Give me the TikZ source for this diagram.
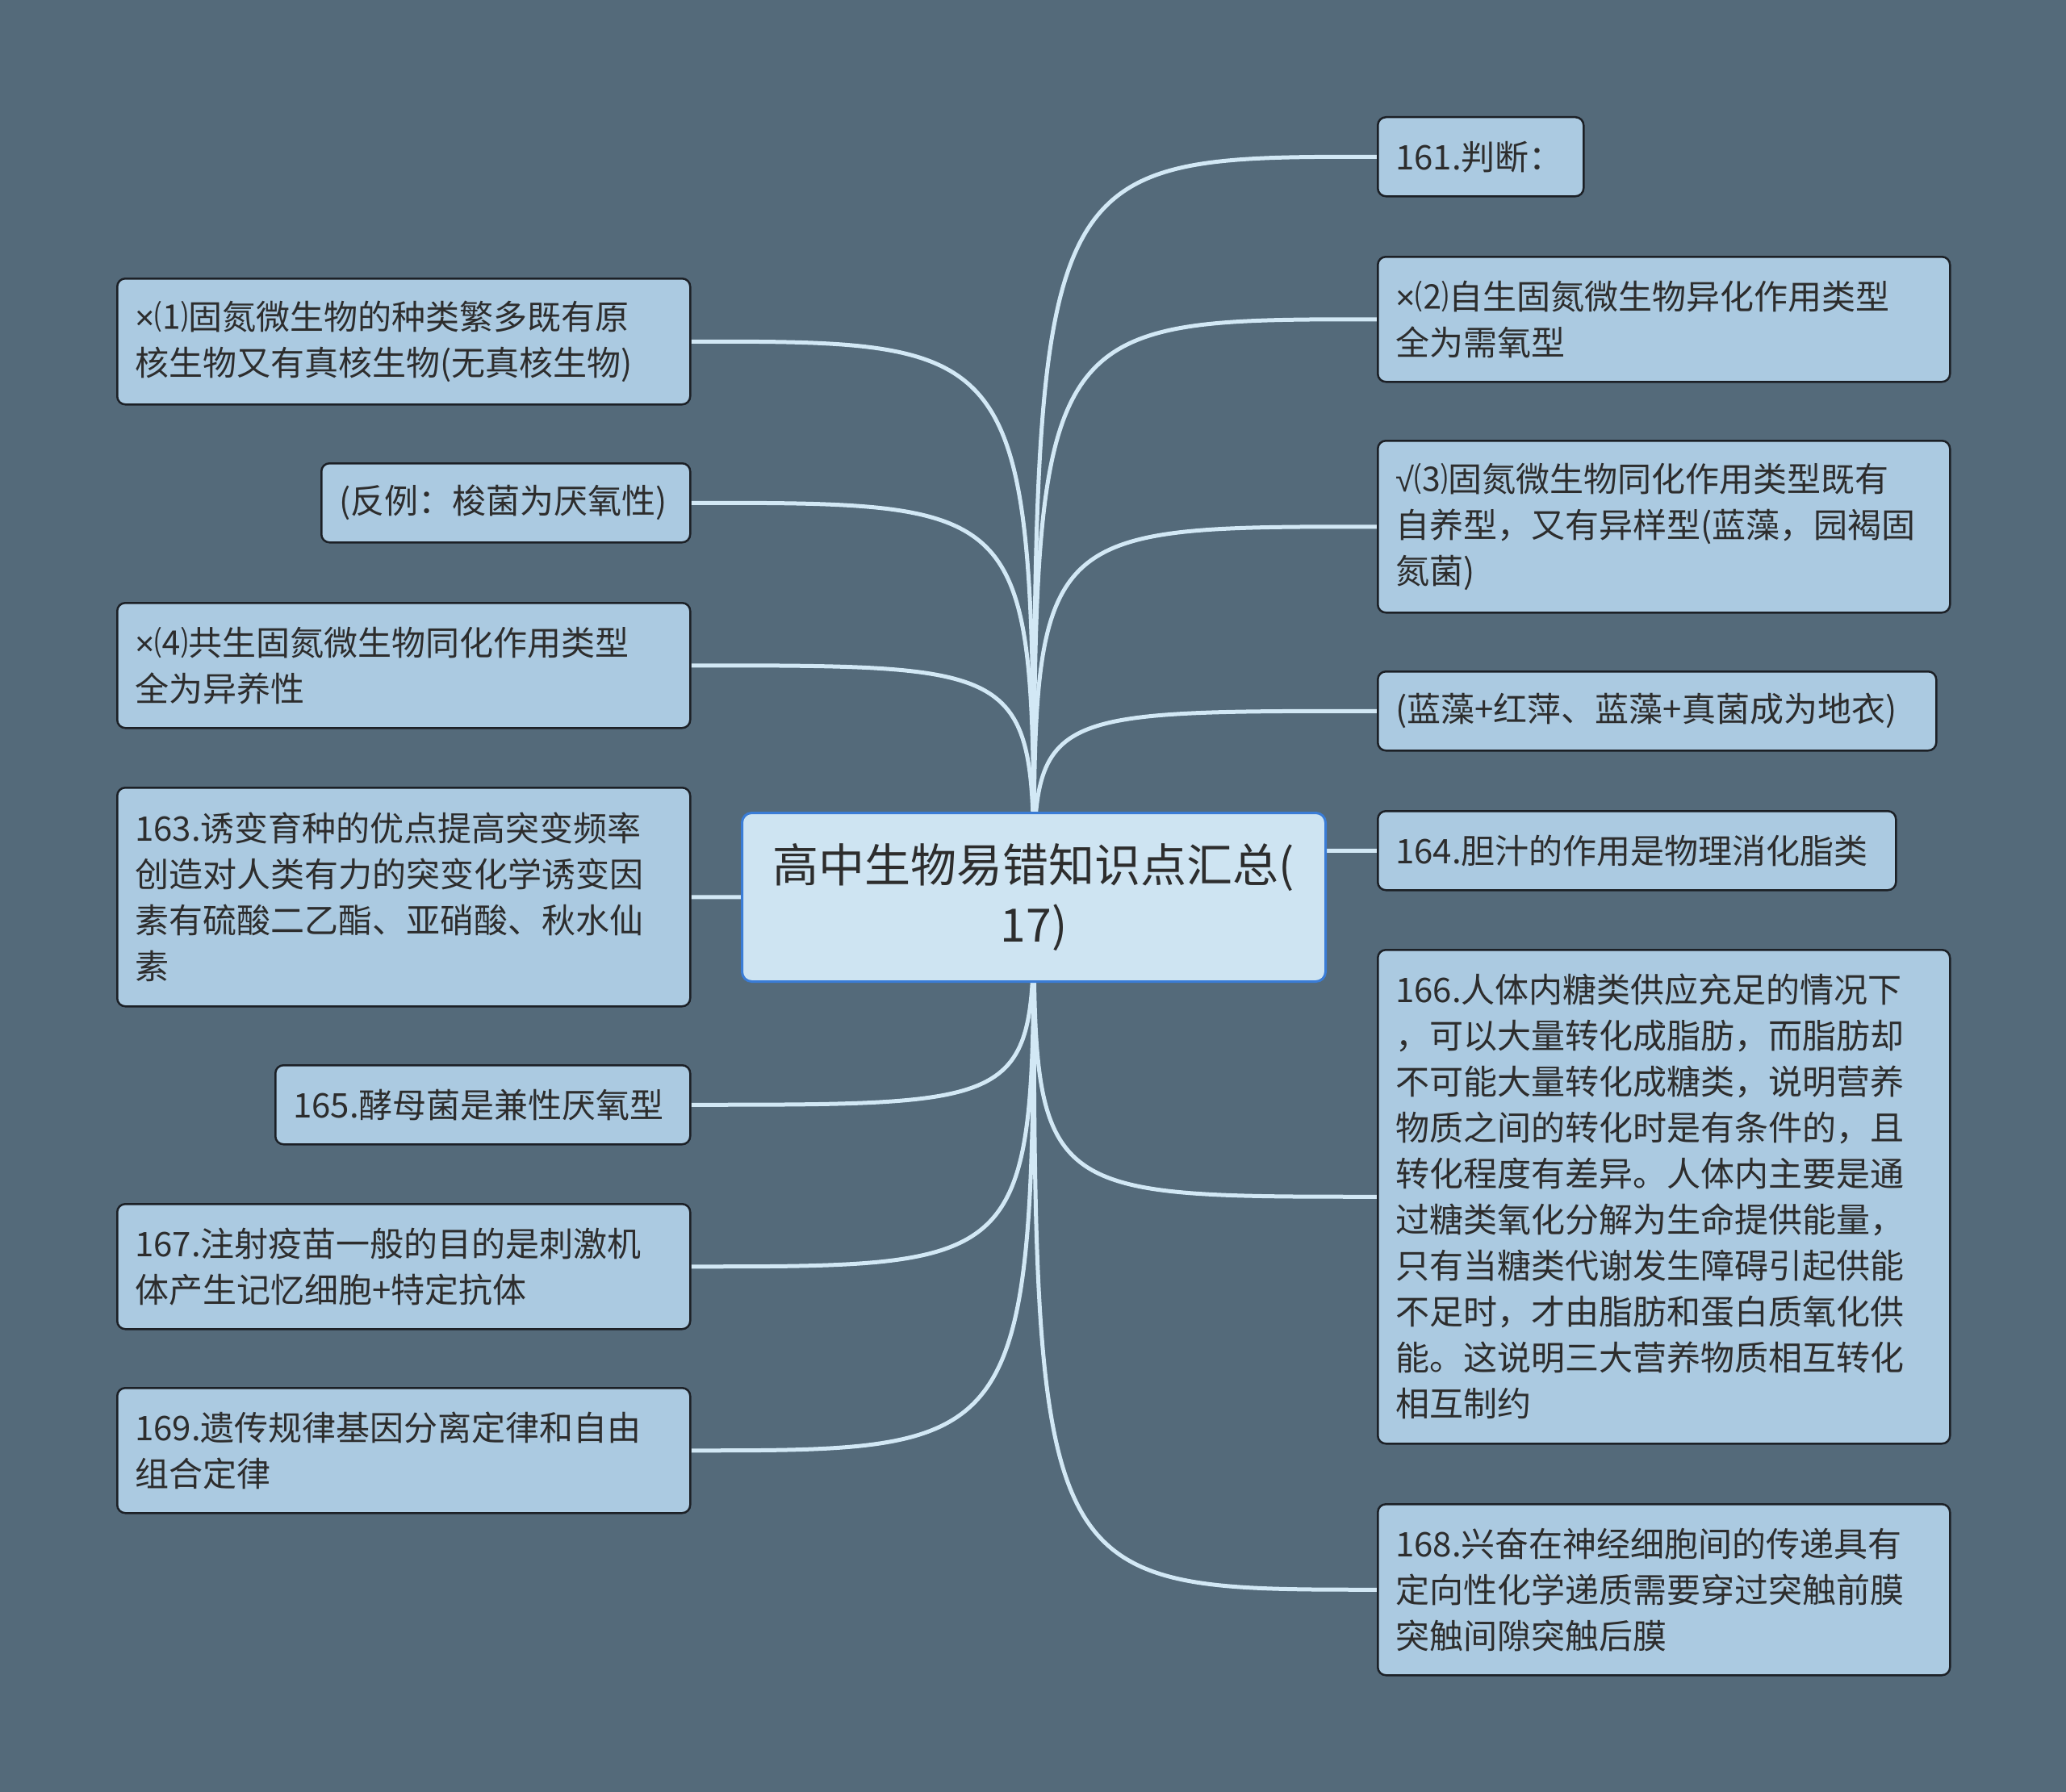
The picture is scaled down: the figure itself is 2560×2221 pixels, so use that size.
\documentclass[tikz,border=0pt]{standalone}
\usepackage{fontspec}
\newfontfamily\cjk{Noto Sans CJK SC}
\newfontfamily\latsym{Liberation Sans}
\definecolor{bgcol}{RGB}{84,106,122}
\definecolor{nodefill}{RGB}{171,202,225}
\definecolor{nodeborder}{RGB}{28,32,38}
\definecolor{centerfill}{RGB}{206,228,242}
\definecolor{centerborder}{RGB}{58,124,214}
\definecolor{linecol}{RGB}{210,232,245}
\definecolor{textcol}{RGB}{45,45,45}
\pgfdeclarelayer{bg}
\pgfsetlayers{bg,main}
\newcommand\crossmk{{\latsym ×}}
\newcommand\checkmk{{\latsym √}}
\tikzset{
  leaf/.style={draw=nodeborder, line width=2.5pt, fill=nodefill, rounded corners=10pt,
    text=textcol, font=\cjk\fontsize{42}{57}\selectfont, align=left,
    inner xsep=22pt, inner ysep=0pt, anchor=north west},
  root/.style={draw=centerborder, line width=3pt, fill=centerfill, rounded corners=12pt,
    text=textcol, font=\cjk\fontsize{57}{74}\selectfont, align=center,
    inner sep=0pt, anchor=north west},
  conn/.style={draw=linecol, line width=5pt},
}
\begin{document}
\begin{tikzpicture}[x=1pt,y=-1pt]
\begin{pgfonlayer}{bg}
\fill[bgcol] (0,0) rectangle (2560,2221);
\end{pgfonlayer}
\useasboundingbox (0,0) rectangle (2560,2221);

% centre
\node[root, minimum width=723pt, minimum height=209pt] (C) at (918,1006)
  {高中生物易错知识点汇总(\\17)};

% left side
\node[leaf, minimum width=710pt, minimum height=156pt, text width=666pt] (L1) at (144,344)
  {\crossmk⑴固氮微生物的种类繁多既有原\\核生物又有真核生物(无真核生物)};
\node[leaf, minimum width=457pt, minimum height=98pt, text width=413pt] (L2) at (397,573)
  {(反例：梭菌为厌氧性)};
\node[leaf, minimum width=710pt, minimum height=155pt, text width=666pt] (L3) at (144,746)
  {\crossmk⑷共生固氮微生物同化作用类型\\全为异养性};
\node[leaf, minimum width=710pt, minimum height=271pt, text width=666pt] (L4) at (144,975)
  {163.诱变育种的优点提高突变频率\\创造对人类有力的突变化学诱变因\\素有硫酸二乙酯、亚硝酸、秋水仙\\素};
\node[leaf, minimum width=514pt, minimum height=98pt, text width=470pt] (L5) at (340,1319)
  {165.酵母菌是兼性厌氧型};
\node[leaf, minimum width=710pt, minimum height=155pt, text width=666pt] (L6) at (144,1491)
  {167.注射疫苗一般的目的是刺激机\\体产生记忆细胞+特定抗体};
\node[leaf, minimum width=710pt, minimum height=155pt, text width=666pt] (L7) at (144,1719)
  {169.遗传规律基因分离定律和自由\\组合定律};

% right side
\node[leaf, minimum width=255pt, minimum height=98pt, text width=211pt] (R1) at (1706,144)
  {161.判断：};
\node[leaf, minimum width=709pt, minimum height=155pt, text width=665pt] (R2) at (1706,317)
  {\crossmk⑵自生固氮微生物异化作用类型\\全为需氧型};
\node[leaf, minimum width=709pt, minimum height=213pt, text width=665pt] (R3) at (1706,545)
  {\checkmk⑶固氮微生物同化作用类型既有\\自养型，又有异样型(蓝藻，园褐固\\氮菌)};
\node[leaf, minimum width=692pt, minimum height=98pt, text width=648pt] (R4) at (1706,831)
  {(蓝藻+红萍、蓝藻+真菌成为地衣)};
\node[leaf, minimum width=642pt, minimum height=98pt, text width=598pt] (R5) at (1706,1004)
  {164.胆汁的作用是物理消化脂类};
\node[leaf, minimum width=709pt, minimum height=612pt, text width=665pt] (R6) at (1706,1176)
  {166.人体内糖类供应充足的情况下\\，可以大量转化成脂肪，而脂肪却\\不可能大量转化成糖类，说明营养\\物质之间的转化时是有条件的，且\\转化程度有差异。人体内主要是通\\过糖类氧化分解为生命提供能量，\\只有当糖类代谢发生障碍引起供能\\不足时，才由脂肪和蛋白质氧化供\\能。这说明三大营养物质相互转化\\相互制约};
\node[leaf, minimum width=709pt, minimum height=212pt, text width=665pt] (R7) at (1706,1863)
  {168.兴奋在神经细胞间的传递具有\\定向性化学递质需要穿过突触前膜\\突触间隙突触后膜};

\begin{pgfonlayer}{bg}
\foreach \n in {L1,L2,L3,L4,L5,L6,L7}{
  \draw[conn] (C.center) .. controls (C.center |- \n.east) .. (\n.east);
}
\foreach \n in {R1,R2,R3,R4,R5,R6,R7}{
  \draw[conn] (C.center) .. controls (C.center |- \n.west) .. (\n.west);
}
\end{pgfonlayer}
\end{tikzpicture}
\end{document}
